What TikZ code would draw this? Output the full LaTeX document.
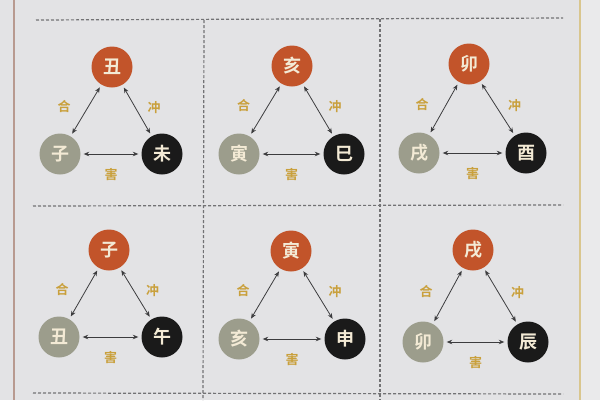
\documentclass[tikz,border=0pt]{standalone}
\usepackage{fontspec}
\newfontfamily\cjk{Noto Sans CJK SC}[BoldFont={Noto Sans CJK SC Bold}]
\usetikzlibrary{calc,arrows.meta}
\definecolor{bgc}{HTML}{E3E3E5}
\definecolor{orgc}{HTML}{C2542A}
\definecolor{grac}{HTML}{9C9D8C}
\definecolor{blkc}{HTML}{1A1A1A}
\definecolor{txtc}{HTML}{F3EAD5}
\definecolor{labc}{HTML}{C9A03C}
\definecolor{dashc}{HTML}{727274}
\definecolor{arrc}{HTML}{3C3C3E}
\definecolor{lbord}{HTML}{B89A90}
\definecolor{rbord}{HTML}{D9C68E}
\tikzset{
  circ/.style={circle,minimum size=41pt,inner sep=0pt,text=txtc,font=\cjk\bfseries\fontsize{18}{18}\selectfont},
  topc/.style={circ,fill=orgc},
  leftc/.style={circ,fill=grac},
  rightc/.style={circ,fill=blkc},
  arr/.style={draw=arrc,line width=0.8pt,{Stealth[length=5.5pt,width=4.5pt]}-{Stealth[length=5.5pt,width=4.5pt]},shorten <=3pt,shorten >=3pt},
  lab/.style={text=labc,inner sep=0pt,font=\cjk\bfseries\fontsize{13}{13}\selectfont},
  sep/.style={draw=dashc,line width=1.2pt,dash pattern=on 3pt off 2pt}
}
\newcommand\panel[7]{%
  \node[topc] (#1t) at #2 {#5};
  \node[leftc] (#1l) at #3 {#6};
  \node[rightc] (#1r) at #4 {#7};
  \draw[arr] (#1t) -- (#1l);
  \draw[arr] (#1t) -- (#1r);
  \draw[arr] (#1l) -- (#1r);
  \node[lab] (#1a) at ($(#1t)!0.5!(#1l)+(-22,-4)$) {合};
  \node[lab] (#1b) at ($(#1t)!0.5!(#1r)+(17,-3)$) {冲};
  \node[lab] (#1c) at ($(#1l)!0.5!(#1r)+(0,21)$) {害};
}
\begin{document}
\begin{tikzpicture}[x=1pt,y=-1pt]
\useasboundingbox (0,0) rectangle (600,400);
\fill[bgc] (0,0) rectangle (600,400);
\fill[white,opacity=0.25] (580,0) rectangle (600,400);
\draw[lbord,line width=1.2pt] (14,0) -- (14,400);
\draw[rbord,line width=1.2pt] (580,0) -- (580,400);
% separators
\coordinate (h1a) at (36,20);  \coordinate (h1b) at (563,18);
\coordinate (h2a) at (33,206); \coordinate (h2b) at (563,205);
\coordinate (h3a) at (33,393); \coordinate (h3b) at (563,394);
\coordinate (v1a) at (204,20); \coordinate (v1b) at (203,400);
\coordinate (v2a) at (380,19); \coordinate (v2b) at (380,400);
\draw[sep] (h1a) -- (h1b);
\draw[sep] (h2a) -- (h2b);
\draw[sep] (h3a) -- (h3b);
\draw[sep] (v1a) -- (v1b);
\draw[sep] (v2a) -- (v2b);
\panel{p1}{(112,67)}{(60,154)}{(162,154)}{丑}{子}{未}
\panel{p2}{(292,66)}{(239,154)}{(344,154)}{亥}{寅}{巳}
\panel{p3}{(469,64)}{(419,153)}{(526,153)}{卯}{戌}{酉}
\panel{p4}{(109,250)}{(59,337)}{(162,337)}{子}{丑}{午}
\panel{p5}{(291,251)}{(239,339)}{(345,339)}{寅}{亥}{申}
\panel{p6}{(473,250)}{(423,342)}{(528,342)}{戌}{卯}{辰}
\end{tikzpicture}
\end{document}
